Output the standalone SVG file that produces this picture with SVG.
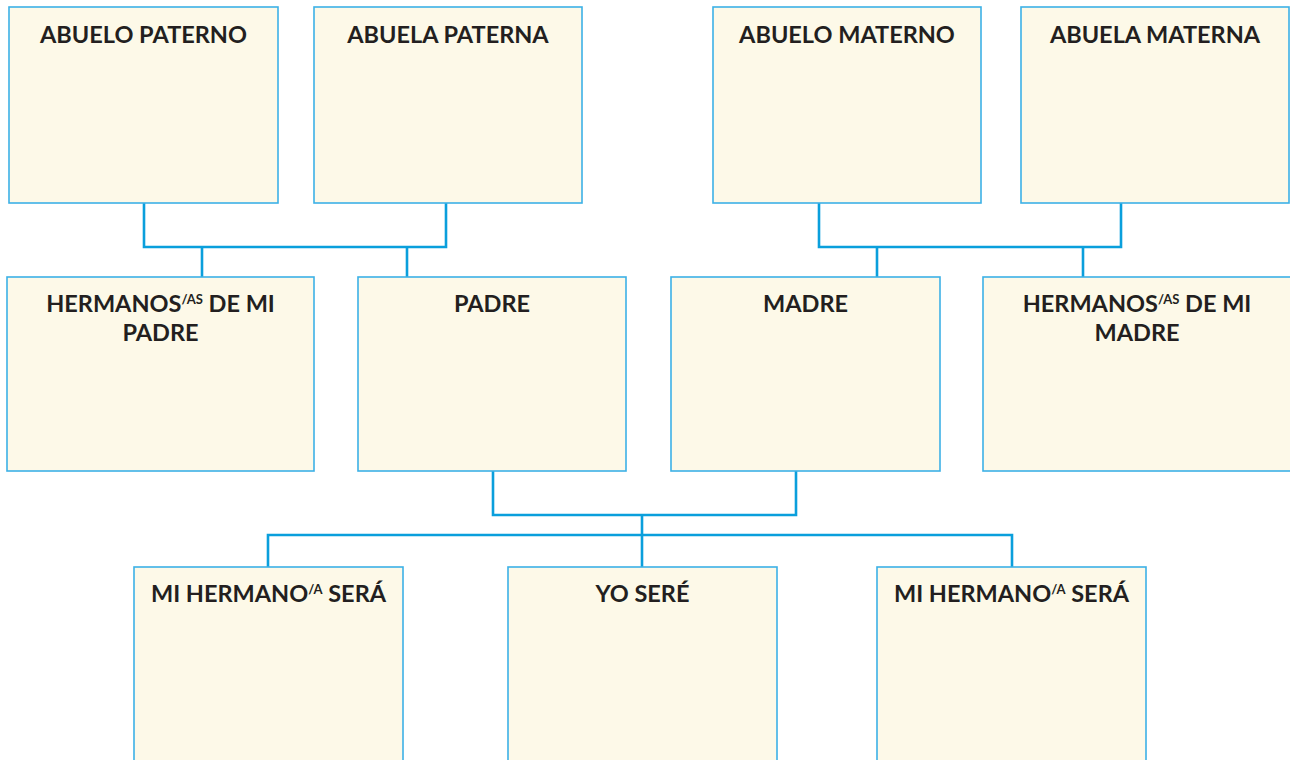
<svg xmlns="http://www.w3.org/2000/svg" width="1290" height="760" viewBox="0 0 1290 760">
<style>
.box{fill:#fdf9e8;stroke:#3cb1e6;stroke-width:1.6}
.lbl{font-family:Lato,"Open Sans","Liberation Sans",sans-serif;font-weight:700;font-size:23.5px;fill:#231f20;text-anchor:middle}
.sup{font-size:13px}
.con{fill:none;stroke:#0a9fdc;stroke-width:2.6}
</style>
<rect width="1290" height="760" fill="#ffffff"/>
<g id="connectors">
<path class="con" d="M144 203V247H446V203M202 247V277M407 247V277"/>
<path class="con" d="M819 203V247H1121V203M877 247V277M1083 247V277"/>
<path class="con" d="M493 471V515H796V471M642 515V567M268 567V535H1012V567"/>
</g>
<g id="abuelo-paterno"><rect class="box" x="9" y="7" width="269" height="196"/><text class="lbl" x="143.5" y="43">ABUELO PATERNO</text></g>
<g id="abuela-paterna"><rect class="box" x="314" y="7" width="268" height="196"/><text class="lbl" x="448" y="43">ABUELA PATERNA</text></g>
<g id="abuelo-materno"><rect class="box" x="713" y="7" width="268" height="196"/><text class="lbl" x="847" y="43">ABUELO MATERNO</text></g>
<g id="abuela-materna"><rect class="box" x="1021" y="7" width="268" height="196"/><text class="lbl" x="1155" y="43">ABUELA MATERNA</text></g>
<g id="hermanos-padre"><rect class="box" x="7" y="277" width="307" height="194"/><text class="lbl" x="160.5" y="312">HERMANOS<tspan class="sup" dy="-8">/AS</tspan><tspan dy="8"> DE MI</tspan></text><text class="lbl" x="160.5" y="341">PADRE</text></g>
<g id="padre"><rect class="box" x="358" y="277" width="268" height="194"/><text class="lbl" x="492" y="312">PADRE</text></g>
<g id="madre"><rect class="box" x="671" y="277" width="269" height="194"/><text class="lbl" x="805.5" y="312">MADRE</text></g>
<g id="hermanos-madre"><rect class="box" x="983" y="277" width="320" height="194"/><text class="lbl" x="1137" y="312">HERMANOS<tspan class="sup" dy="-8">/AS</tspan><tspan dy="8"> DE MI</tspan></text><text class="lbl" x="1137" y="341">MADRE</text></g>
<g id="hermano-1"><rect class="box" x="134" y="567" width="269" height="200"/><text class="lbl" x="268.5" y="602">MI HERMANO<tspan class="sup" dy="-8">/A</tspan><tspan dy="8"> SERÁ</tspan></text></g>
<g id="yo"><rect class="box" x="508" y="567" width="269" height="200"/><text class="lbl" x="642.5" y="602">YO SERÉ</text></g>
<g id="hermano-2"><rect class="box" x="877" y="567" width="269" height="200"/><text class="lbl" x="1011.5" y="602">MI HERMANO<tspan class="sup" dy="-8">/A</tspan><tspan dy="8"> SERÁ</tspan></text></g>
</svg>
